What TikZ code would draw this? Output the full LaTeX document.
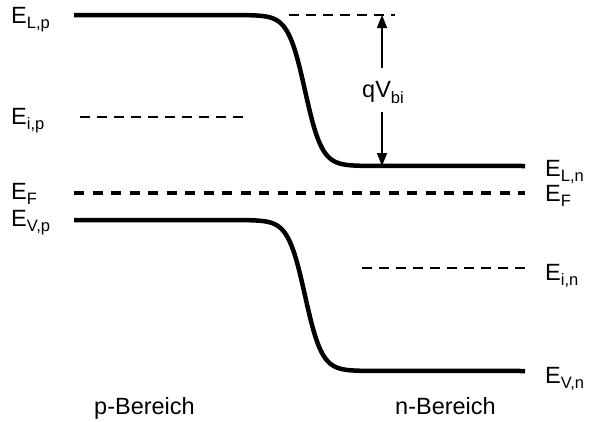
\documentclass[tikz,border=0pt]{standalone}
\usepackage{fontspec}
\setmainfont{Liberation Sans}
\usetikzlibrary{arrows.meta}
\newcommand{\Esub}[2]{#1\raisebox{-5.5pt}{\fontsize{16.5}{16.5}\selectfont #2}}
\begin{document}
\begin{tikzpicture}[x=1pt,y=-1pt,
  band/.style={line width=4.5pt},
  fermi/.style={line width=4.5pt, dash pattern=on 10pt off 8.5pt},
  lvl/.style={line width=1.2pt, dash pattern=on 9.5pt off 7.5pt},
  lbl/.style={inner sep=0pt, anchor=base west, font=\fontsize{23.5}{27}\selectfont},
  arr/.style={line width=1.5pt, -{Triangle[length=13pt,width=10pt]}}]
\useasboundingbox (0,0) rectangle (592,421);

% bands
\draw[band] (74,15) -- (245,15) -- plot[domain=245:360,samples=80] (\x,{15+75.5*(1+tanh((\x-305)/17))}) -- (525,166);
\draw[band] (74,220) -- (245,220) -- plot[domain=245:360,samples=80] (\x,{220+75.5*(1+tanh((\x-305)/17))}) -- (525,371);

% Fermi level
\draw[fermi] (74,193) -- (525,193);

% intrinsic levels and reference
\draw[lvl] (80,117) -- (245,117);
\draw[lvl] (362,268) -- (525,268);
\draw[lvl] (289,15) -- (395,15);

% left labels
\node[lbl] (ELp) at (11,23) {\Esub{E}{L,p}};
\node[lbl] (Eip) at (11,124) {\Esub{E}{i,p}};
\node[lbl] (EFl) at (11,199) {\Esub{E}{F}};
\node[lbl] (EVp) at (11,226) {\Esub{E}{V,p}};

% right labels
\node[lbl] (ELn) at (545,176) {\Esub{E}{L,n}};
\node[lbl] (EFr) at (545,201) {\Esub{E}{F}};
\node[lbl] (Ein) at (545,280) {\Esub{E}{i,n}};
\node[lbl] (EVn) at (545,383) {\Esub{E}{V,n}};

% qVbi arrow
\node[inner sep=0pt, anchor=base, font=\fontsize{23.5}{27}\selectfont] (qv) at (383,97) {qV\raisebox{-6pt}{\fontsize{16.5}{16.5}\selectfont bi}};
\coordinate (qa) at (382,68);
\coordinate (qb) at (382,112);
\coordinate (qtop) at (382,15);
\coordinate (qbot) at (382,166);
\draw[arr] (qa) -- (qtop);
\draw[arr] (qb) -- (qbot);

% region labels
\node[lbl] (pB) at (94,414) {p-Bereich};
\node[lbl] (nB) at (395,414) {n-Bereich};
\end{tikzpicture}
\end{document}
